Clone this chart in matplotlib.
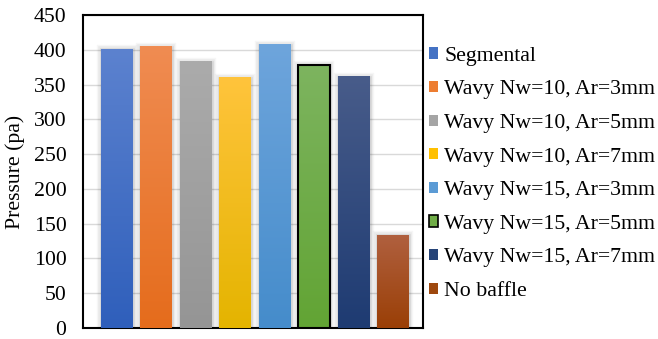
import numpy as np
import matplotlib.pyplot as plt
import matplotlib.patheffects as pe
from matplotlib.colors import LinearSegmentedColormap
from matplotlib.patches import Patch

plt.rcParams['font.family'] = ['Liberation Serif', 'DejaVu Serif']

labels = ['Segmental', 'Wavy Nw=10, Ar=3mm', 'Wavy Nw=10, Ar=5mm', 'Wavy Nw=10, Ar=7mm',
          'Wavy Nw=15, Ar=3mm', 'Wavy Nw=15, Ar=5mm', 'Wavy Nw=15, Ar=7mm', 'No baffle']
pressure = [401, 404, 383, 360, 407, 378, 361, 133]

# gradient colours, top then bottom
top_cols = ['#5C82CF', '#F08C52', '#ABABAB', '#FFC43C', '#6EA5DC', '#7DB45F', '#485C8A', '#B0603F']
bot_cols = ['#2F5FBB', '#E56C1C', '#959595', '#E4B400', '#458CCB', '#62A434', '#1E3B72', '#9A3F06']
mid_cols = ['#4472C4', '#ED7D31', '#A5A5A5', '#FFC000', '#5B9BD5', '#70AD47', '#264478', '#9E480E']

fig = plt.figure(figsize=(6.58, 3.39), dpi=100)
ax = fig.add_axes([0.1261, 0.0324, 0.5168, 0.9234])

x = np.arange(len(pressure))
width = 0.81
halo = [pe.Stroke(linewidth=6, foreground='k', alpha=0.035),
        pe.Stroke(linewidth=4, foreground='k', alpha=0.05),
        pe.Stroke(linewidth=2, foreground='k', alpha=0.07),
        pe.Normal()]
bars = ax.bar(x, pressure, width=width, color=mid_cols, linewidth=0, zorder=2)
grad = np.linspace(0, 1, 256).reshape(-1, 1)
for i, b in enumerate(bars):
    b.set_path_effects(halo)
    cmap = LinearSegmentedColormap.from_list('g%d' % i, [bot_cols[i], top_cols[i]])
    x0 = b.get_x()
    ax.imshow(grad, cmap=cmap, origin='lower', aspect='auto',
              extent=[x0, x0 + width, 0, b.get_height()], zorder=3)
    if labels[i] == 'Wavy Nw=15, Ar=5mm':
        ax.add_patch(plt.Rectangle((x0, 0), width, b.get_height(), fill=False,
                                   edgecolor='black', linewidth=1.5, zorder=4))

ax.set_xlim(-0.85, 7.76)
ax.set_ylim(0, 450)
ax.set_yticks(np.arange(0, 451, 50))
ax.set_xticks([])
ax.yaxis.grid(True, color='#D9D9D9', linewidth=1)
ax.set_axisbelow(True)
ax.tick_params(axis='y', length=0, pad=12, labelsize=15.7)
for s in ax.spines.values():
    s.set_color('black')
    s.set_linewidth(1.5)
ax.set_ylabel('Pressure (pa)', fontsize=15.7, labelpad=6)

handles = []
for i in range(len(labels)):
    if labels[i] == 'Wavy Nw=15, Ar=5mm':
        handles.append(Patch(facecolor=mid_cols[i], edgecolor='black', linewidth=1.2))
    else:
        handles.append(Patch(facecolor=mid_cols[i], edgecolor='none'))
fig.legend(handles, labels, loc='upper left', bbox_to_anchor=(0.652, 0.862),
           frameon=False, fontsize=15.7, handlelength=0.42, handleheight=0.42,
           handletextpad=0.28, labelspacing=0.67, borderpad=0, borderaxespad=0)

fig.savefig('out.png', dpi=100)
